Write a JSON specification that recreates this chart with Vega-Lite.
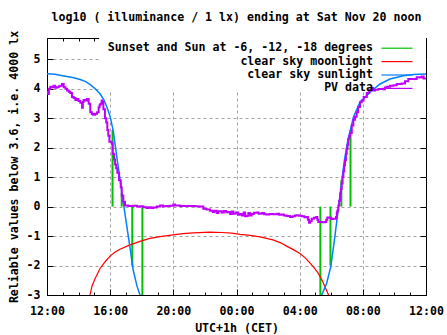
{
  "$schema": "https://vega.github.io/schema/vega-lite/v6.json",
  "width": 379,
  "height": 257,
  "autosize": {"type": "none"},
  "padding": {"left": 47, "top": 38, "right": 21, "bottom": 40},
  "background": "white",
  "title": {
    "text": "log10 ( illuminance / 1 lx) ending at Sat Nov 20 noon",
    "font": "DejaVu Sans Mono", "fontWeight": "bold", "fontSize": 11.6, "color": "black",
    "anchor": "middle", "offset": 7
  },
  "config": {
    "view": {"stroke": "black", "strokeWidth": 1},
    "axis": {
      "labelFont": "DejaVu Sans Mono", "labelFontWeight": "bold", "labelFontSize": 11.6, "labelColor": "black",
      "titleFont": "DejaVu Sans Mono", "titleFontWeight": "bold", "titleFontSize": 11.6, "titleColor": "black",
      "tickColor": "black", "tickWidth": 1, "domain": false
    }
  },
  "datasets": {
    "events": [
      {"t": 16.15, "top": 2.6}, {"t": 16.73, "top": 0.45}, {"t": 17.40, "top": -2.0}, {"t": 18.04, "top": -3.5},
      {"t": 29.31, "top": -3.5}, {"t": 29.95, "top": -2.0}, {"t": 30.64, "top": 0.9}, {"t": 31.22, "top": 2.6}
    ],
    "moon": [
      {"t": 14.65, "v": -3.4}, {"t": 14.72, "v": -3.0}, {"t": 14.85, "v": -2.7}, {"t": 15.04, "v": -2.45},
      {"t": 15.36, "v": -2.1}, {"t": 15.67, "v": -1.88}, {"t": 15.99, "v": -1.68}, {"t": 16.3, "v": -1.55},
      {"t": 16.62, "v": -1.45}, {"t": 17.26, "v": -1.3}, {"t": 17.89, "v": -1.18}, {"t": 18.52, "v": -1.08},
      {"t": 19.16, "v": -1.02}, {"t": 19.98, "v": -0.96}, {"t": 20.6, "v": -0.92}, {"t": 21.25, "v": -0.89},
      {"t": 22.32, "v": -0.87}, {"t": 23.08, "v": -0.88}, {"t": 23.7, "v": -0.9}, {"t": 24.22, "v": -0.94},
      {"t": 24.85, "v": -0.98}, {"t": 25.49, "v": -1.03}, {"t": 26.31, "v": -1.13}, {"t": 26.8, "v": -1.23},
      {"t": 27.2, "v": -1.35}, {"t": 27.6, "v": -1.46}, {"t": 28.02, "v": -1.59}, {"t": 28.35, "v": -1.74},
      {"t": 28.66, "v": -1.92}, {"t": 28.92, "v": -2.08}, {"t": 29.16, "v": -2.25}, {"t": 29.42, "v": -2.5},
      {"t": 29.6, "v": -2.72}, {"t": 29.83, "v": -3.0}, {"t": 29.9, "v": -3.4}
    ],
    "sun": [
      {"seg": "pm", "t": 12.0, "v": 4.51}, {"seg": "pm", "t": 12.5, "v": 4.49}, {"seg": "pm", "t": 13.0, "v": 4.44},
      {"seg": "pm", "t": 13.27, "v": 4.41}, {"seg": "pm", "t": 13.7, "v": 4.37}, {"seg": "pm", "t": 14.1, "v": 4.31},
      {"seg": "pm", "t": 14.45, "v": 4.24}, {"seg": "pm", "t": 14.74, "v": 4.14}, {"seg": "pm", "t": 15.05, "v": 4.0},
      {"seg": "pm", "t": 15.37, "v": 3.82}, {"seg": "pm", "t": 15.6, "v": 3.62}, {"seg": "pm", "t": 15.8, "v": 3.37},
      {"seg": "pm", "t": 16.0, "v": 3.05}, {"seg": "pm", "t": 16.2, "v": 2.55}, {"seg": "pm", "t": 16.41, "v": 1.72},
      {"seg": "pm", "t": 16.62, "v": 0.95}, {"seg": "pm", "t": 16.83, "v": 0.15}, {"seg": "pm", "t": 17.04, "v": -0.62},
      {"seg": "pm", "t": 17.25, "v": -1.37}, {"seg": "pm", "t": 17.46, "v": -2.16}, {"seg": "pm", "t": 17.7, "v": -2.7},
      {"seg": "pm", "t": 17.89, "v": -3.0}, {"seg": "pm", "t": 18.0, "v": -3.2},
      {"seg": "am", "t": 29.3, "v": -3.2}, {"seg": "am", "t": 29.4, "v": -3.0}, {"seg": "am", "t": 29.71, "v": -2.6},
      {"seg": "am", "t": 29.97, "v": -2.04}, {"seg": "am", "t": 30.2, "v": -1.14}, {"seg": "am", "t": 30.41, "v": -0.24},
      {"seg": "am", "t": 30.62, "v": 0.66}, {"seg": "am", "t": 30.83, "v": 1.57}, {"seg": "am", "t": 31.05, "v": 2.24},
      {"seg": "am", "t": 31.4, "v": 3.03}, {"seg": "am", "t": 31.82, "v": 3.54}, {"seg": "am", "t": 32.46, "v": 3.88},
      {"seg": "am", "t": 33.09, "v": 4.16}, {"seg": "am", "t": 33.72, "v": 4.33}, {"seg": "am", "t": 34.57, "v": 4.44},
      {"seg": "am", "t": 35.2, "v": 4.48}, {"seg": "am", "t": 36.0, "v": 4.5}
    ],
    "pv": [
      {"t": 12.00, "v": 3.90}, {"t": 12.05, "v": 3.82}, {"t": 12.12, "v": 4.00}, {"t": 12.21, "v": 4.07},
      {"t": 12.32, "v": 4.05}, {"t": 12.42, "v": 4.10}, {"t": 12.52, "v": 4.03}, {"t": 12.63, "v": 4.05},
      {"t": 12.74, "v": 4.08}, {"t": 12.84, "v": 4.10}, {"t": 12.95, "v": 4.16}, {"t": 13.06, "v": 4.05},
      {"t": 13.17, "v": 4.00}, {"t": 13.27, "v": 3.94}, {"t": 13.38, "v": 3.90}, {"t": 13.48, "v": 3.85},
      {"t": 13.58, "v": 3.72}, {"t": 13.69, "v": 3.68}, {"t": 13.80, "v": 3.62}, {"t": 13.90, "v": 3.65},
      {"t": 14.00, "v": 3.58}, {"t": 14.11, "v": 3.52}, {"t": 14.22, "v": 3.35}, {"t": 14.27, "v": 3.55},
      {"t": 14.32, "v": 3.62}, {"t": 14.42, "v": 3.60}, {"t": 14.53, "v": 3.65}, {"t": 14.64, "v": 3.49},
      {"t": 14.74, "v": 3.20}, {"t": 14.84, "v": 3.14}, {"t": 14.93, "v": 3.12}, {"t": 15.05, "v": 3.15},
      {"t": 15.17, "v": 3.20}, {"t": 15.27, "v": 3.37}, {"t": 15.33, "v": 3.45}, {"t": 15.38, "v": 3.49},
      {"t": 15.46, "v": 3.60}, {"t": 15.50, "v": 3.55}, {"t": 15.57, "v": 3.30}, {"t": 15.67, "v": 3.00},
      {"t": 15.75, "v": 2.85}, {"t": 15.82, "v": 2.60}, {"t": 15.88, "v": 2.40}, {"t": 15.95, "v": 2.20},
      {"t": 16.10, "v": 2.13}, {"t": 16.16, "v": 1.79}, {"t": 16.25, "v": 1.60}, {"t": 16.31, "v": 1.43},
      {"t": 16.38, "v": 1.30}, {"t": 16.45, "v": 1.15}, {"t": 16.56, "v": 0.89}, {"t": 16.67, "v": 0.66},
      {"t": 16.73, "v": 0.38}, {"t": 16.83, "v": 0.16}, {"t": 16.94, "v": 0.04}, {"t": 17.15, "v": 0.02},
      {"t": 17.45, "v": 0.03}, {"t": 17.70, "v": 0.00}, {"t": 17.89, "v": 0.01}, {"t": 18.10, "v": -0.02},
      {"t": 18.31, "v": -0.05}, {"t": 18.45, "v": -0.02}, {"t": 18.60, "v": -0.05}, {"t": 18.73, "v": -0.03},
      {"t": 18.95, "v": 0.00}, {"t": 19.16, "v": 0.04}, {"t": 19.35, "v": 0.01}, {"t": 19.58, "v": 0.02},
      {"t": 19.80, "v": 0.03}, {"t": 20.00, "v": 0.07}, {"t": 20.10, "v": 0.04}, {"t": 20.42, "v": 0.02},
      {"t": 20.80, "v": 0.02}, {"t": 21.37, "v": 0.01}, {"t": 21.60, "v": 0.00}, {"t": 21.90, "v": -0.07},
      {"t": 22.10, "v": -0.10}, {"t": 22.32, "v": -0.14}, {"t": 22.50, "v": -0.18}, {"t": 22.60, "v": -0.14},
      {"t": 22.75, "v": -0.22}, {"t": 22.85, "v": -0.16}, {"t": 23.06, "v": -0.20}, {"t": 23.20, "v": -0.15},
      {"t": 23.35, "v": -0.19}, {"t": 23.48, "v": -0.18}, {"t": 23.60, "v": -0.25}, {"t": 23.70, "v": -0.17},
      {"t": 23.80, "v": -0.24}, {"t": 23.95, "v": -0.20}, {"t": 24.10, "v": -0.28}, {"t": 24.22, "v": -0.25},
      {"t": 24.35, "v": -0.30}, {"t": 24.45, "v": -0.20}, {"t": 24.55, "v": -0.33}, {"t": 24.65, "v": -0.31},
      {"t": 24.75, "v": -0.22}, {"t": 24.85, "v": -0.30}, {"t": 24.96, "v": -0.25}, {"t": 25.10, "v": -0.21},
      {"t": 25.28, "v": -0.20}, {"t": 25.40, "v": -0.24}, {"t": 25.60, "v": -0.22}, {"t": 25.75, "v": -0.26},
      {"t": 25.91, "v": -0.27}, {"t": 26.10, "v": -0.25}, {"t": 26.33, "v": -0.26}, {"t": 26.55, "v": -0.24},
      {"t": 26.70, "v": -0.28}, {"t": 26.86, "v": -0.27}, {"t": 27.00, "v": -0.30}, {"t": 27.18, "v": -0.32},
      {"t": 27.39, "v": -0.35}, {"t": 27.55, "v": -0.33}, {"t": 27.70, "v": -0.30}, {"t": 27.81, "v": -0.29},
      {"t": 27.95, "v": -0.31}, {"t": 28.13, "v": -0.33}, {"t": 28.30, "v": -0.36}, {"t": 28.45, "v": -0.35},
      {"t": 28.52, "v": -0.45}, {"t": 28.59, "v": -0.55}, {"t": 28.66, "v": -0.50}, {"t": 28.76, "v": -0.41},
      {"t": 28.90, "v": -0.38}, {"t": 29.04, "v": -0.35}, {"t": 29.12, "v": -0.45}, {"t": 29.18, "v": -0.52},
      {"t": 29.40, "v": -0.53}, {"t": 29.61, "v": -0.52}, {"t": 29.68, "v": -0.45}, {"t": 29.75, "v": -0.37},
      {"t": 29.90, "v": -0.38}, {"t": 30.00, "v": -0.42}, {"t": 30.13, "v": -0.41}, {"t": 30.30, "v": -0.35},
      {"t": 30.35, "v": -0.20}, {"t": 30.39, "v": -0.13}, {"t": 30.45, "v": 0.04}, {"t": 30.50, "v": 0.20},
      {"t": 30.56, "v": 0.44}, {"t": 30.61, "v": 0.60}, {"t": 30.66, "v": 0.78}, {"t": 30.72, "v": 1.00},
      {"t": 30.77, "v": 1.20}, {"t": 30.82, "v": 1.40}, {"t": 30.87, "v": 1.57}, {"t": 30.93, "v": 1.78},
      {"t": 30.98, "v": 1.95}, {"t": 31.03, "v": 2.10}, {"t": 31.08, "v": 2.30}, {"t": 31.14, "v": 2.40},
      {"t": 31.19, "v": 2.50}, {"t": 31.30, "v": 2.75}, {"t": 31.40, "v": 2.95}, {"t": 31.50, "v": 3.05},
      {"t": 31.61, "v": 3.20}, {"t": 31.70, "v": 3.38}, {"t": 31.82, "v": 3.54}, {"t": 31.93, "v": 3.60},
      {"t": 32.05, "v": 3.72}, {"t": 32.25, "v": 3.85}, {"t": 32.40, "v": 3.95}, {"t": 32.56, "v": 4.02},
      {"t": 32.66, "v": 3.94}, {"t": 32.77, "v": 3.96}, {"t": 32.98, "v": 3.99}, {"t": 33.30, "v": 3.98},
      {"t": 33.40, "v": 4.04}, {"t": 33.51, "v": 4.07}, {"t": 33.72, "v": 4.10}, {"t": 33.95, "v": 4.12},
      {"t": 34.15, "v": 4.16}, {"t": 34.46, "v": 4.18}, {"t": 34.67, "v": 4.25}, {"t": 34.88, "v": 4.33},
      {"t": 35.20, "v": 4.33}, {"t": 35.41, "v": 4.39}, {"t": 35.60, "v": 4.38}, {"t": 35.73, "v": 4.41},
      {"t": 35.85, "v": 4.35}, {"t": 36.00, "v": 4.33}
    ]
  },
  "resolve": {"axis": {"x": "independent", "y": "independent"}},
  "layer": [
    {
      "data": {"values": [{}]},
      "mark": {"type": "rect", "fill": "white"},
      "encoding": {
        "x": {"datum": 15.3, "type": "quantitative", "scale": {"domain": [12, 36], "nice": false, "zero": false}, "axis": null},
        "x2": {"datum": 36},
        "y": {"datum": 3.93, "type": "quantitative", "scale": {"domain": [-3, 5.72], "nice": false, "zero": false}, "axis": null},
        "y2": {"datum": 5.72}
      }
    },
    {
      "data": {"name": "events"},
      "mark": {"type": "rule", "strokeWidth": 2, "clip": true},
      "encoding": {
        "x": {
          "field": "t", "type": "quantitative",
          "scale": {"domain": [12, 36], "nice": false, "zero": false},
          "axis": {
            "orient": "bottom", "values": [12, 16, 20, 24, 28, 32, 36],
            "labelExpr": "(datum.value % 24 < 10 ? '0' : '') + (datum.value % 24) + ':00'",
            "grid": true, "gridColor": "#a0a0a0", "gridDash": [3, 3], "gridWidth": 1,
            "gridOpacity": {"condition": {"test": "datum.value == 12 || datum.value == 36", "value": 0}, "value": 1},
            "ticks": true, "tickSize": -6, "labelPadding": 16, "labelFlush": false, "labelOverlap": false,
            "title": "UTC+1h (CET)", "titlePadding": 6
          }
        },
        "y": {
          "field": "top", "type": "quantitative",
          "scale": {"domain": [-3, 5.72], "nice": false, "zero": false},
          "axis": {
            "orient": "left", "values": [-3, -2, -1, 0, 1, 2, 3, 4, 5],
            "labelExpr": "'' + datum.value",
            "grid": true, "gridColor": "#a0a0a0", "gridDash": [3, 3], "gridWidth": 1,
            "gridOpacity": {"condition": {"test": "datum.value == -3", "value": 0}, "value": 1},
            "ticks": true, "tickSize": -6, "labelPadding": 13, "labelFlush": false, "labelOverlap": false,
            "title": "Reliable values below 3.6, i.e. 4000 lx", "titlePadding": 7
          }
        },
        "y2": {"datum": 0},
        "color": {
          "datum": "Sunset and Sun at -6, -12, -18 degrees", "type": "nominal",
          "scale": {
            "domain": ["Sunset and Sun at -6, -12, -18 degrees", "clear sky moonlight", "clear sky sunlight", "PV data"],
            "range": ["#00c000", "#ff0000", "#0080ff", "#c000ff"]
          },
          "legend": {
            "orient": "none", "legendX": 0, "legendY": 4.2, "title": null, "padding": 0,
            "symbolType": "stroke", "symbolSize": 961, "symbolStrokeWidth": 1.2,
            "labelFont": "DejaVu Sans Mono", "labelFontWeight": "bold", "labelFontSize": 11.6, "labelColor": "black",
            "labelLimit": 400, "labelAlign": "right", "labelBaseline": "middle", "rowPadding": 1.4,
            "labelExpr": "datum.value == 'Sunset and Sun at -6, -12, -18 degrees' ? datum.value + '\u00a0' : datum.value",
            "encode": {
              "entries": {"update": {"width": {"value": 370}}},
              "symbols": {"update": {"x": {"value": 350}, "y": {"value": 6}}},
              "labels": {"update": {"x": {"value": 326}, "y": {"value": 6}}}
            }
          }
        }
      }
    },
    {
      "data": {"name": "moon"},
      "mark": {"type": "line", "strokeWidth": 1.2, "clip": true},
      "encoding": {
        "x": {
          "field": "t", "type": "quantitative",
          "scale": {"domain": [12, 36], "nice": false, "zero": false},
          "axis": {
            "orient": "bottom", "values": [12,13,14,15,16,17,18,19,20,21,22,23,24,25,26,27,28,29,30,31,32,33,34,35,36],
            "labels": false, "grid": false, "ticks": true, "tickSize": -3, "title": null
          }
        },
        "y": {
          "field": "v", "type": "quantitative",
          "scale": {"domain": [-3, 5.72], "nice": false, "zero": false},
          "axis": {
            "orient": "right", "values": [-3, -2, -1, 0, 1, 2, 3, 4, 5],
            "labels": false, "grid": false, "ticks": true, "tickSize": -6, "title": null
          }
        },
        "color": {"datum": "clear sky moonlight", "type": "nominal"}
      }
    },
    {
      "data": {"name": "sun"},
      "mark": {"type": "line", "strokeWidth": 1.5, "clip": true},
      "encoding": {
        "x": {
          "field": "t", "type": "quantitative",
          "scale": {"domain": [12, 36], "nice": false, "zero": false},
          "axis": {
            "orient": "top", "values": [12, 16, 20, 24, 28, 32, 36],
            "labels": false, "grid": false, "ticks": true, "tickSize": -6, "title": null
          }
        },
        "y": {"field": "v", "type": "quantitative", "scale": {"domain": [-3, 5.72], "nice": false, "zero": false}, "axis": null},
        "detail": {"field": "seg", "type": "nominal"},
        "color": {"datum": "clear sky sunlight", "type": "nominal"}
      }
    },
    {
      "data": {"name": "pv"},
      "mark": {"type": "line", "strokeWidth": 2, "interpolate": "step-after", "clip": true},
      "encoding": {
        "x": {
          "field": "t", "type": "quantitative",
          "scale": {"domain": [12, 36], "nice": false, "zero": false},
          "axis": {
            "orient": "top", "values": [12,13,14,15,16,17,18,19,20,21,22,23,24,25,26,27,28,29,30,31,32,33,34,35,36],
            "labels": false, "grid": false, "ticks": true, "tickSize": -3, "title": null
          }
        },
        "y": {"field": "v", "type": "quantitative", "scale": {"domain": [-3, 5.72], "nice": false, "zero": false}, "axis": null},
        "color": {"datum": "PV data", "type": "nominal"}
      }
    }
  ]
}
